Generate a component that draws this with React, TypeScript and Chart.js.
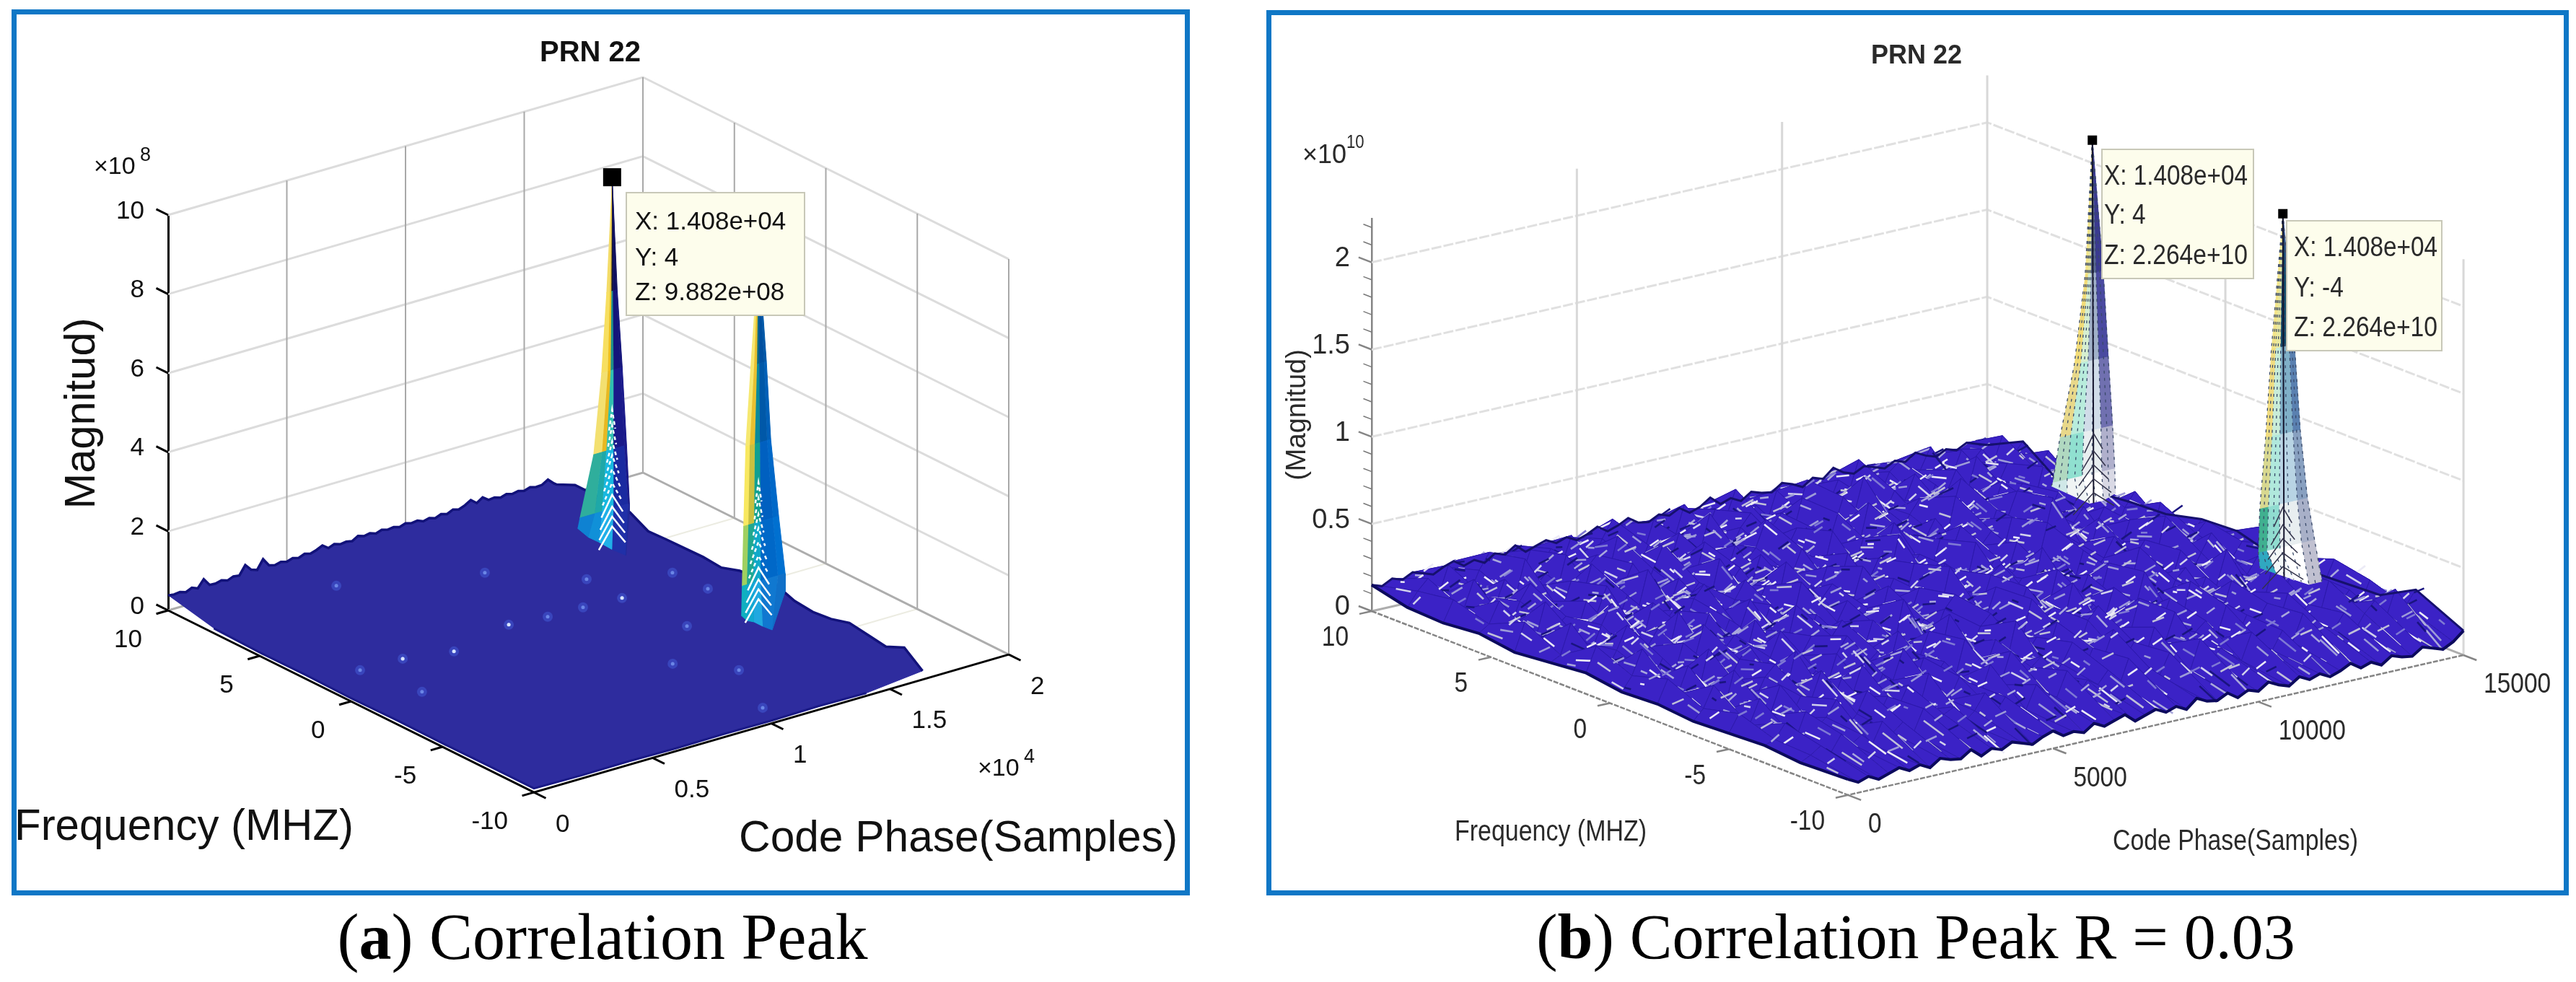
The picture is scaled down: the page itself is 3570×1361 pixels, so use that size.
import { useEffect, useRef } from "react";
import { Chart, registerables } from "chart.js";

Chart.register(...registerables);

const SANS = "'Liberation Sans', Arial, sans-serif";

// ---- panel (a) values: magnitude in 1e8, code phase in samples, frequency in MHz
const codeTicksA = [0, 5000, 10000, 15000, 20000];
const codeTickTextA = ["0", "0.5", "1", "1.5", "2"];
const freqTicks = [10, 5, 0, -5, -10];
const zTicksA = [2, 4, 6, 8, 10];
const wallFreqsA = [5, 0, -5, -10];
const floorFreqsA = [5, 0, -5];

const backCodesA = [
  0, 250, 500, 750, 1000, 1250, 1500, 1750, 2000, 2250, 2500, 2750, 3000, 3250, 3500, 3750, 4000, 4250, 4500, 4750, 5000, 5250,
  5500, 5750, 6000, 6250, 6500, 6750, 7000, 7250, 7500, 7750, 8000, 8250, 8500, 8750, 9000, 9250, 9500, 9750, 10000, 10250,
  10500, 10750, 11000, 11250, 11500, 11750, 12000, 12250, 12500, 12750, 13000, 13250, 13500, 13750, 14000, 14250, 14500, 14750,
  15000, 15250, 15500, 15750, 16000, 16250,
];
const backEdgeA = [
  0.38, 0.36, 0.38, 0.33, 0.4, 0.34, 0.53, 0.34, 0.33, 0.37, 0.32, 0.38, 0.36, 0.58, 0.42, 0.37, 0.6, 0.4, 0.36, 0.4, 0.36, 0.41,
  0.37, 0.43, 0.39, 0.44, 0.51, 0.4, 0.46, 0.41, 0.43, 0.4, 0.49, 0.44, 0.47, 0.42, 0.47, 0.43, 0.45, 0.41, 0.46, 0.42, 0.44,
  0.38, 0.42, 0.37, 0.43, 0.39, 0.46, 0.42, 0.48, 0.57, 0.45, 0.55, 0.44, 0.46, 0.41, 0.46, 0.42, 0.45, 0.41, 0.46, 0.42, 0.43,
  0.52, 0.38,
];
const lastCodeA = 16368;
const rightFreqsA = [10, 9, 8, 7, 6, 5, 4, 3, 2, 1, 0, -1, -2, -3, -4, -5, -6, -7, -8, -9, -10];
const rightEdgeA = [0.33, 0.55, 0.55, 0.55, 0.55, 0.3, 0.32, 0.33, 0.34, 0.3, 0.45, 0.5, 0.55, 0.38, 0.33, 0.38, 0.51, 0.44, 0.37, 0.58, 0.22];
const frontCodesA = [14000, 12000, 10000, 8000, 6000, 4000, 2000, 0];
const frontEdgeA = [0.07, 0.09, 0.07, 0.08, 0.07, 0.09, 0.08, 0.1];
const leftFreqsA = [-7.5, -5, -2.5, 0, 2.5, 5, 7.5];
const leftEdgeA = [0.1, 0.09, 0.1, 0.08, 0.1, 0.09, 0.12];
const speckCodesA = [7977, 12417, 5090, 3340, 1590, 2080, 5475, 10120, 12480, 15110, 15200, 12640, 10250, 11670, 10290, 10880, 9440];
const speckFreqsA = [1.73, 1.3, 0.98, 1.51, 1.57, -1.18, 7.91, 5.82, 3.32, 2.04, 0.22, -1.96, -4.28, -6.06, -9.15, 1.44, 1.5];
const brightCodesA = [12417, 7977, 5090, 3340];
const brightFreqsA = [1.3, 1.73, 0.98, 1.51];

const peakCodeX = 14080;
const peakLevelsA = [9.882, 7, 5, 3, 1.5, 0.3];
const peak1RibCodesA = [
  [0, -243, -456, -790, -1368, 570],
  [0, -91, -182, -426, -730, 378],
  [0, -30, -61, -243, -426, 396],
  [0, 30, 61, 61, 61, 355],
  [0, 182, 365, 517, 669, 410],
  [0, 213, 426, 608, 730, 2820],
];
const peak1RibFreqsA = [2.63, 1.79, 1.22, 0.46, -0.22, 2.72];
const peak2RibCodesA = [
  [0, -334, -547, -638, -699, 259],
  [0, -182, -365, -426, -486, 140],
  [0, -61, -152, -182, -213, 254],
  [0, 30, 61, 91, 91, 254],
  [0, 243, 365, 608, 821, 310],
  [0, 334, 517, 851, 1125, 2720],
];
const peak2RibFreqsA = [1.28, 0.81, 0.57, 0.09, -0.35, 2.07];
const rungLevelsA = [1.05, 1.3, 1.55, 1.85, 2.15, 2.5, 2.85, 3.2, 3.6, 4];
const rungSpansA = [560, 540, 500, 450, 400, 340, 280, 220, 170, 130];

// ---- panel (b) values: magnitude in 1e10
const codeTicksB = [0, 5000, 10000, 15000];
const codeTickTextB = ["0", "5000", "10000", "15000"];
const zTicksB = [0.5, 1, 1.5, 2];
const zMinorB = [0.1, 0.2, 0.3, 0.4, 0.6, 0.7, 0.8, 0.9, 1.1, 1.2, 1.3, 1.4, 1.6, 1.7, 1.8, 1.9, 2.1, 2.2];
const wallFreqsB = [0, -10];

const meshCodesB = [
  0, 250, 500, 750, 1000, 1250, 1500, 1750, 2000, 2250, 2500, 2750, 3000, 3250, 3500, 3750, 4000, 4250, 4500, 4750, 5000, 5250,
  5500, 5750, 6000, 6250, 6500, 6750, 7000, 7250, 7500, 7750, 8000, 8250, 8500, 8750, 9000, 9250, 9500, 9750, 10000, 10250,
  10500, 10750, 11000, 11250, 11500, 11750, 12000, 12250, 12500, 12750, 13000, 13250, 13500, 13750, 14000, 14250, 14500, 14750,
  15000,
];
const meshFreqsB = [10, 8.5, 7, 5.5, 4, 2.5, 1, -0.5, -2, -3.5, -5, -6.5, -8, -10];
// hundredths of 1e10, one row per frequency
const meshB = [
  [15,13,16,14,17,15,13,16,18,14,16,13,17,15,19,14,16,18,15,17,14,16,19,15,17,20,16,15,18,16,19,15,17,21,16,18,15,19,17,16,20,18,15,19,17,22,18,16,19,17,15,18,16,20,17,15,18,16,19,17,15],
  [10,18,24,12,29,16,9,22,31,14,20,11,27,17,25,13,30,19,12,24,34,15,21,10,28,18,14,33,22,12,26,19,35,16,23,11,29,20,14,31,24,13,27,18,36,21,12,25,30,15,22,34,17,13,28,20,26,14,31,18,25],
  [9,21,14,30,19,11,26,13,35,18,24,10,32,15,22,28,12,36,20,14,27,17,11,30,23,15,37,19,13,25,32,14,21,28,12,34,18,24,11,29,16,38,22,14,26,19,33,12,24,17,30,13,35,20,15,27,11,23,18,29,10],
  [11,15,27,10,24,33,14,20,12,29,16,36,13,23,18,31,11,25,38,16,21,13,34,20,10,28,17,24,39,14,19,30,12,26,15,33,21,10,35,18,27,13,23,31,11,28,17,37,14,22,12,30,19,26,10,33,16,21,28,13,12],
  [8,24,12,33,17,22,10,28,19,34,11,26,15,38,20,12,29,17,24,10,35,19,27,14,32,11,22,16,30,24,12,36,18,10,28,21,14,33,25,12,19,30,15,40,17,24,11,27,20,35,13,23,16,29,12,26,34,15,22,18,14],
  [10,13,30,18,11,25,36,14,21,10,31,17,24,13,28,35,16,11,22,32,14,26,10,37,18,23,13,29,11,34,20,15,27,12,38,16,24,10,30,19,35,13,21,28,11,33,18,25,14,39,12,22,30,16,27,10,24,32,13,20,15],
  [12,26,11,21,34,13,19,28,11,35,22,14,30,10,24,17,33,12,27,20,11,36,15,24,31,12,18,37,22,13,26,10,32,19,14,28,23,11,36,17,25,12,31,20,15,38,11,27,22,13,34,18,10,29,24,12,35,16,21,11,20],
  [9,17,31,13,23,10,29,16,37,12,20,27,11,33,18,24,12,36,15,28,10,21,32,14,25,11,35,19,13,30,24,12,38,16,21,10,28,33,14,22,12,37,19,26,11,30,16,23,34,12,20,28,14,39,17,10,25,31,13,22,21],
  [10,23,13,28,11,35,20,14,25,31,10,22,36,13,19,29,11,26,34,17,12,30,22,10,38,15,24,13,27,34,11,20,16,33,25,12,29,18,11,35,21,14,28,10,32,24,13,37,18,22,11,30,15,26,36,12,19,27,14,33,15],
  [8,14,26,10,32,17,12,24,30,11,35,16,21,10,28,37,13,19,24,11,33,20,14,29,10,36,18,12,25,31,14,22,10,34,17,27,12,38,15,23,11,30,19,13,35,21,12,26,32,10,24,17,37,13,20,29,11,33,16,23,14],
  [9,19,11,25,14,30,10,21,17,33,12,26,14,31,10,23,18,35,11,27,15,22,10,32,19,13,28,11,36,16,24,12,30,20,10,27,34,14,19,11,33,23,13,29,10,36,18,25,12,31,15,22,11,34,19,27,12,24,17,30,15],
  [10,12,20,9,24,13,18,27,10,16,28,11,22,14,26,10,30,16,12,24,19,10,27,14,32,11,20,25,13,18,29,10,23,15,31,12,21,9,27,16,33,11,19,24,12,30,10,22,17,26,11,29,14,20,10,31,16,23,12,26,16],
  [8,11,15,10,19,12,16,9,21,13,18,10,23,12,17,20,10,15,24,11,19,13,9,22,16,12,26,10,18,14,21,9,25,13,17,11,23,15,10,27,12,19,14,9,24,16,11,21,13,28,10,18,15,23,11,20,26,13,30,19,27],
  [9,6,8,5,7,9,6,8,5,9,7,6,10,5,8,6,9,7,5,8,10,6,7,5,9,6,8,10,5,7,9,6,8,5,10,7,6,9,5,8,6,10,7,5,9,6,8,5,7,10,6,8,5,9,7,6,10,8,6,9,14],
];
const peakLevelsB = [2.264, 1.5, 1, 0.6, 0.35, 0.18];
const peak1RibCodesB = [
  [0, -176, -440, -791, -967, 71],
  [0, -105, -281, -527, -615, 28],
  [0, -35, -105, -211, -246, -30],
  [0, 88, 158, 211, 229, 295],
  [0, 264, 387, 492, 545, 769],
];
const peak1RibFreqsB = [1.85, 1.11, 0.07, 0.05, 0.36];
const peak2RibCodesB = [
  [0, -281, -422, -563, -598, 18],
  [0, -176, -264, -352, -387, 43],
  [0, -53, -70, -88, -70, 80],
  [0, 158, 246, 352, 457, 112],
  [0, 281, 422, 598, 774, 427],
];
const peak2RibFreqsB = [1, 0.35, -0.32, -0.9, -0.9];
const rungLevelsB = [0.24, 0.32, 0.4, 0.48, 0.58];
const rungSpansB = [500, 430, 360, 290, 220];

interface Peak {
  freq: number;
  levels: number[];
  ribCodes: number[][];
  ribFreqs: number[];
  colors: string[][];
  rungs: number[];
  spans: number[];
  rungDrop: number;
  rungShift: number;
  rungColor: string;
  rungWidth: number;
  dashed: boolean;
  markerRadius: number;
}

const peak1ColorsA = [
  ["#f4dc68", "#e2c03a", "#15152f", "#10105e", "#10105e"],
  ["#f7df60", "#efc020", "#1d8f8a", "#14147a", "#14147a"],
  ["#f3e070", "#e8b820", "#30c0b0", "#1a1a8a", "#1a1a8a"],
  ["#2fae9c", "#1ea8a8", "#18b8e0", "#1a2aa0", "#1a1a8a"],
  ["#0f82d2", "#1090d8", "#20b0e8", "#2030a8", "#202a98"],
];
const peak2ColorsA = [
  ["#f6e870", "#e8c030", "#0a6a80", "#0050a0", "#0058a8"],
  ["#f6e870", "#e8c030", "#0a8a9a", "#0058a8", "#0060b8"],
  ["#f8e860", "#c8c040", "#10a090", "#0060c0", "#0068c8"],
  ["#a0d060", "#20a890", "#10a8c8", "#0068c8", "#0070d0"],
  ["#10b0c0", "#10a8d0", "#20a8e0", "#1078d0", "#1070c8"],
];
const peak1ColorsB = [
  ["#f3e58a", "#e8e8a0", "#5a6a90", "#3a3a90"],
  ["#f2dc78", "#d6efd0", "#a0b0c8", "#4a4aa0"],
  ["#e8d88a", "#b8ecdc", "#d0dce8", "#7070b0"],
  ["#b0d8c0", "#90e0d0", "#e8eef0", "#b0b0cc"],
  ["#d0e8e8", "#f0f4f4", "#ffffff", "#d8d8e4"],
];
const peak2ColorsB = [
  ["#f3e58a", "#e8e8a0", "#104a6a", "#30508a"],
  ["#f0dc80", "#c8ecd8", "#80b0c8", "#5a80b0"],
  ["#d8d890", "#b0e8dc", "#b8d4e4", "#88a0c0"],
  ["#40b090", "#90dcd0", "#e8eef0", "#a8b0c8"],
  ["#30a8c0", "#f4f8f8", "#ffffff", "#c0c0d0"],
];

const peaksA: Peak[] = [
  { freq: -4, levels: peakLevelsA, ribCodes: peak2RibCodesA, ribFreqs: peak2RibFreqsA, colors: peak2ColorsA, rungs: rungLevelsA, spans: rungSpansA, rungDrop: 0.5, rungShift: 0, rungColor: "#ffffff", rungWidth: 2.5, dashed: false, markerRadius: 0 },
  { freq: 4, levels: peakLevelsA, ribCodes: peak1RibCodesA, ribFreqs: peak1RibFreqsA, colors: peak1ColorsA, rungs: rungLevelsA, spans: rungSpansA, rungDrop: 0.5, rungShift: 0, rungColor: "#ffffff", rungWidth: 2.5, dashed: false, markerRadius: 12.5 },
];
const peaksB: Peak[] = [
  { freq: 4, levels: peakLevelsB, ribCodes: peak1RibCodesB, ribFreqs: peak1RibFreqsB, colors: peak1ColorsB, rungs: rungLevelsB, spans: rungSpansB, rungDrop: 0.1, rungShift: 30, rungColor: "#33334a", rungWidth: 1.5, dashed: true, markerRadius: 6.5 },
  { freq: -4, levels: peakLevelsB, ribCodes: peak2RibCodesB, ribFreqs: peak2RibFreqsB, colors: peak2ColorsB, rungs: rungLevelsB, spans: rungSpansB, rungDrop: 0.1, rungShift: 0, rungColor: "#33334a", rungWidth: 1.5, dashed: true, markerRadius: 6.5 },
];

interface Pt3 {
  code: number;
  freq: number;
  z: number;
}

interface TextItem {
  text: string;
  x: number;
  y: number;
  size: number;
  align?: CanvasTextAlign;
  squeeze?: number;
  rotate?: boolean;
  width?: number;
}

interface Tip {
  box: number[];
  textX: number;
  lineY: number[];
  lines: string[];
  width: number;
  size: number;
}

interface Panel {
  left: number;
  width: number;
  areaLeft: number;
  areaBottom: number;
  codeMax: number;
  xMax: number;
  zMax: number;
  zTop: number;
  stepZ: number;
  shiftX: number; // code units per MHz on screen
  riseZ: number; // magnitude units per sample on screen
  dropZ: number; // magnitude units per MHz on screen
  titleSize: number;
  titleTop: number;
  titlePad: number;
  labelPad: number;
  labelOffset: number;
  tickSize: number;
  textColor: string;
  axisColor: string;
  axisWidth: number;
  axisDash: number[];
  squeeze: number;
  codeTicks: number[];
  codeText: string[];
  codeLabelDx: number;
  codeLabelDy: number;
  freqLabelDx: number;
  freqLabelDy: number;
  texts: TextItem[];
  tips: Tip[];
  build: (p: Panel) => any[];
}

function project(p: Panel, code: number, freq: number, z: number) {
  return {
    x: code + (10 - freq) * p.shiftX,
    y: z + code * p.riseZ - (10 - freq) * p.dropZ,
  };
}

function lineSet(p: Panel, pts: Pt3[], color: string, width: number, dash: number[] = []) {
  return {
    type: "scatter",
    data: pts.map((q) => project(p, q.code, q.freq, q.z)),
    showLine: true,
    borderColor: color,
    borderWidth: width,
    borderDash: dash,
    pointRadius: 0,
    tension: 0,
    clip: false,
  };
}

function polySet(p: Panel, pts: Pt3[], color: string) {
  return { ...lineSet(p, pts, color, 1), polygonFill: color };
}

// chart.js skips points outside the chart area, so dots are painted from the placed elements
function dotSet(data: { x: number; y: number }[], color: string, radius: number, square = false) {
  return { type: "scatter", data, pointRadius: 0, dotColor: color, dotRadius: radius, dotSquare: square, clip: false };
}

// walls, floor lines and the three axes with their slanted tick marks
function boxSets(p: Panel, zTicks: number[], wallFreqs: number[], floorFreqs: number[], wallColor: string, gridColor: string, wallWidth: number) {
  const max = p.codeMax;
  const sets: any[] = [];
  zTicks.forEach((z) => {
    sets.push(lineSet(p, [{ code: 0, freq: 10, z }, { code: max, freq: 10, z }, { code: max, freq: -10, z }], gridColor, 3, p.axisDash.length ? [14, 3] : []));
  });
  p.codeTicks.slice(1).forEach((code) => {
    sets.push(lineSet(p, [{ code, freq: 10, z: 0 }, { code, freq: 10, z: p.zTop }], wallColor, wallWidth));
  });
  wallFreqs.forEach((freq) => {
    sets.push(lineSet(p, [{ code: max, freq, z: 0 }, { code: max, freq, z: p.zTop }], wallColor, wallWidth));
  });
  floorFreqs.forEach((freq) => {
    sets.push(lineSet(p, [{ code: 0, freq, z: 0 }, { code: max, freq, z: 0 }], "#ecece2", 2));
  });
  sets.push(lineSet(p, [{ code: 0, freq: 10, z: 0 }, { code: max, freq: 10, z: 0 }, { code: max, freq: -10, z: 0 }], "#adadad", 3));
  return sets;
}

function axisSets(p: Panel, zTicks: number[], tickFreq: number, tickCode: number) {
  const c = p.axisColor;
  const w = p.axisWidth;
  const d = p.axisDash;
  const sets: any[] = [lineSet(p, [{ code: 0, freq: 10, z: 0 }, { code: 0, freq: -10, z: 0 }, { code: p.codeMax, freq: -10, z: 0 }], c, w, d)];
  [0, ...zTicks].forEach((z) => sets.push(lineSet(p, [{ code: 0, freq: 10, z }, { code: 0, freq: 10 + tickFreq, z }], c, w)));
  freqTicks.forEach((freq) => sets.push(lineSet(p, [{ code: 0, freq, z: 0 }, { code: -tickCode, freq, z: 0 }], c, w)));
  p.codeTicks.forEach((code) => sets.push(lineSet(p, [{ code, freq: -10, z: 0 }, { code, freq: -10 - tickFreq, z: 0 }], c, w)));
  return sets;
}

function peakSets(p: Panel, pk: Peak) {
  const sets: any[] = [];
  const at = (rib: number, level: number): Pt3 => ({
    code: peakCodeX + pk.ribCodes[rib][level],
    freq: pk.freq + (level === pk.levels.length - 1 ? pk.ribFreqs[rib] : 0),
    z: pk.levels[level],
  });
  for (let l = 0; l < pk.levels.length - 1; l++) {
    for (let r = 0; r < pk.ribCodes.length - 1; r++) {
      sets.push(polySet(p, [at(r, l), at(r + 1, l), at(r + 1, l + 1), at(r, l + 1)], pk.colors[l][r]));
    }
  }
  if (pk.dashed) {
    // mesh lines running down from the tip
    pk.ribCodes.forEach((_, r) => {
      const pts = pk.levels.map((__, l) => at(r, l));
      sets.push(lineSet(p, pts, "#3a4a6a", 1.3, [4, 6]));
      if (r < pk.ribCodes.length - 1) {
        const mid = pts.map((q, l) => ({ code: (q.code + at(r + 1, l).code) / 2, freq: (q.freq + at(r + 1, l).freq) / 2, z: q.z }));
        sets.push(lineSet(p, mid, "#3a4a6a", 1.3, [4, 6]));
      }
    });
    sets.push(lineSet(p, [{ code: peakCodeX, freq: pk.freq, z: pk.levels[0] }, { code: peakCodeX + 30, freq: pk.freq, z: pk.levels[pk.levels.length - 1] }], "#14142c", 2));
  }
  pk.rungs.forEach((z, i) => {
    const c = peakCodeX + pk.rungShift;
    sets.push(
      lineSet(
        p,
        [
          { code: c - pk.spans[i], freq: pk.freq, z: z - pk.rungDrop },
          { code: c, freq: pk.freq, z },
          { code: c + pk.spans[i], freq: pk.freq, z: z - pk.rungDrop },
        ],
        pk.rungColor,
        pk.rungWidth,
        !pk.dashed && i > 3 ? [5, 4] : [],
      ),
    );
  });
  if (pk.markerRadius > 0) {
    sets.push(dotSet([project(p, peakCodeX, pk.freq, pk.levels[0])], "#000000", pk.markerRadius, true));
  }
  return sets;
}

function buildA(p: Panel) {
  const outlineBack: Pt3[] = backCodesA.map((code, i) => ({ code, freq: 10, z: backEdgeA[i] }));
  const outlineRight: Pt3[] = rightFreqsA.map((freq, i) => ({ code: lastCodeA, freq, z: rightEdgeA[i] }));
  const outlineFront: Pt3[] = frontCodesA.map((code, i) => ({ code, freq: -10, z: frontEdgeA[i] }));
  const outlineLeft: Pt3[] = leftFreqsA.map((freq, i) => ({ code: 0, freq, z: leftEdgeA[i] }));
  const specks = speckCodesA.map((code, i) => project(p, code, speckFreqsA[i], 0.15));
  const bright = brightCodesA.map((code, i) => project(p, code, brightFreqsA[i], 0.15));
  return [
    ...boxSets(p, zTicksA, wallFreqsA, floorFreqsA, "#a8a8a8", "#dcdcdc", 2),
    ...axisSets(p, zTicksA, 0.65, 500),
    polySet(p, [...outlineBack, ...outlineRight, ...outlineFront, ...outlineLeft], "#2e2c9e"),
    lineSet(p, [...outlineBack, ...outlineRight], "#12127a", 3.5),
    lineSet(p, [...outlineFront, ...outlineLeft], "#1a1a86", 3),
    dotSet(specks, "rgba(70,100,225,0.45)", 7),
    dotSet(specks, "rgba(120,150,240,0.8)", 2.5),
    dotSet(bright, "#d8e4ff", 2.5),
    ...peakSets(p, peaksA[0]),
    ...peakSets(p, peaksA[1]),
  ];
}

function buildB(p: Panel) {
  const cols = meshCodesB.length;
  const meshPts = meshB.flatMap((row, r) => row.map((v, c) => project(p, meshCodesB[c], meshFreqsB[r], v / 100)));
  const back: Pt3[] = meshB[0].map((v, c) => ({ code: meshCodesB[c], freq: 10, z: v / 100 }));
  const right: Pt3[] = meshB.map((row, r) => ({ code: 15000, freq: meshFreqsB[r], z: row[cols - 1] / 100 }));
  const front: Pt3[] = meshB[meshB.length - 1].map((v, c) => ({ code: meshCodesB[c], freq: -10, z: v / 100 }));
  const left: Pt3[] = meshB.map((row, r) => ({ code: 0, freq: meshFreqsB[r], z: row[0] / 100 }));
  const minor = zMinorB.map((z) => lineSet(p, [{ code: 0, freq: 10, z }, { code: 0, freq: 10.35, z }], "#777777", 1.5));
  return [
    ...boxSets(p, zTicksB, wallFreqsB, [], "#d8d8d8", "#e0e0e0", 3),
    ...axisSets(p, zTicksB, 0.55, 300),
    ...minor,
    {
      type: "scatter",
      data: meshPts,
      meshRows: meshB.length,
      meshCols: cols,
      meshHeights: meshB.flat(),
      pointRadius: 0,
      showLine: false,
      clip: false,
    },
    lineSet(p, back, "#16106e", 3),
    lineSet(p, right, "#16106e", 3),
    lineSet(p, front, "#0c0a5c", 4),
    lineSet(p, left, "#0c0a5c", 4),
    ...peakSets(p, peaksB[1]),
    ...peakSets(p, peaksB[0]),
  ];
}

const panelA: Panel = {
  left: 0,
  width: 1636,
  areaLeft: 233,
  areaBottom: 846,
  codeMax: 20000,
  xMax: 42644,
  zMax: 10,
  zTop: 10,
  stepZ: 2,
  shiftX: 770.5,
  riseZ: 1.7427e-4,
  dropZ: 0.23,
  titleSize: 40,
  titleTop: 50,
  titlePad: 200,
  labelPad: 33,
  labelOffset: -5,
  tickSize: 35,
  textColor: "#111111",
  axisColor: "#000000",
  axisWidth: 3,
  axisDash: [],
  squeeze: 1,
  codeTicks: codeTicksA,
  codeText: codeTickTextA,
  codeLabelDx: 30,
  codeLabelDy: 45,
  freqLabelDx: -36,
  freqLabelDy: 41,
  texts: [
    { text: "×10", x: 130, y: 232, size: 34 },
    { text: "8", x: 194, y: 216, size: 27 },
    { text: "Magnitud)", x: 114, y: 573, size: 60, rotate: true, width: 265, align: "center" },
    { text: "Frequency (MHZ)", x: 20, y: 1147, size: 61, width: 470 },
    { text: "Code Phase(Samples)", x: 1024, y: 1163, size: 61, width: 608 },
    { text: "×10", x: 1355, y: 1066, size: 34 },
    { text: "4", x: 1419, y: 1050, size: 27 },
  ],
  tips: [
    {
      box: [868, 267, 247, 170],
      textX: 880,
      lineY: [308, 358, 406],
      lines: ["X: 1.408e+04", "Y: 4", "Z: 9.882e+08"],
      width: 223,
      size: 35,
    },
  ],
  build: buildA,
};

const panelB: Panel = {
  left: 1760,
  width: 1792,
  areaLeft: 141,
  areaBottom: 847,
  codeMax: 15000,
  xMax: 29031,
  zMax: 2.25,
  zTop: 2.27,
  stepZ: 0.5,
  shiftX: 580.3,
  riseZ: 5.349e-5,
  dropZ: 0.05273,
  titleSize: 36,
  titleTop: 56,
  titlePad: 204,
  labelPad: 30,
  labelOffset: -5,
  tickSize: 38,
  textColor: "#2a2a2a",
  axisColor: "#858585",
  axisWidth: 2.5,
  axisDash: [7, 2],
  squeeze: 0.88,
  codeTicks: codeTicksB,
  codeText: codeTickTextB,
  codeLabelDx: 28,
  codeLabelDy: 42,
  freqLabelDx: -32,
  freqLabelDy: 38,
  texts: [
    { text: "×10", x: 1805, y: 216, size: 36 },
    { text: "10", x: 1866, y: 198, size: 26, squeeze: 0.85 },
    { text: "(Magnitud)", x: 1799, y: 575, size: 38, rotate: true, width: 206, align: "center" },
    { text: "Frequency (MHZ)", x: 2016, y: 1154, size: 41, width: 266 },
    { text: "Code Phase(Samples)", x: 2928, y: 1167, size: 41, width: 340 },
  ],
  tips: [
    {
      box: [2913, 207, 210, 179],
      textX: 2916,
      lineY: [246, 300, 356],
      lines: ["X: 1.408e+04", "Y: 4", "Z: 2.264e+10"],
      width: 199,
      size: 38,
    },
    {
      box: [3169, 306, 215, 180],
      textX: 3179,
      lineY: [345, 401, 456],
      lines: ["X: 1.408e+04", "Y: -4", "Z: 2.264e+10"],
      width: 199,
      size: 38,
    },
  ],
  build: buildB,
};

const FLECKS = ["#d2d1ec", "#aaa8dc", "#7f79d4", "#ecebf6", "#1a1480", "#9d9bd8", "#c0c0d8"];

const mix = (a: any, b: any, t: number) => ({ x: a.x + (b.x - a.x) * t, y: a.y + (b.y - a.y) * t });

// polygons, dots and the mesh are painted from the points the scales placed
const surfacePlugin = {
  id: "surfaceFill",
  beforeDatasetDraw(chart: any, args: any) {
    const ds = chart.data.datasets[args.index];
    const pts = args.meta.data;
    const ctx = chart.ctx;
    if (ds.polygonFill) {
      ctx.save();
      ctx.beginPath();
      pts.forEach((q: any, i: number) => (i ? ctx.lineTo(q.x, q.y) : ctx.moveTo(q.x, q.y)));
      ctx.closePath();
      ctx.fillStyle = ds.polygonFill;
      ctx.fill();
      ctx.restore();
    }
    if (ds.dotRadius) {
      ctx.save();
      ctx.fillStyle = ds.dotColor;
      pts.forEach((q: any) => {
        ctx.beginPath();
        if (ds.dotSquare) ctx.rect(q.x - ds.dotRadius, q.y - ds.dotRadius, ds.dotRadius * 2, ds.dotRadius * 2);
        else ctx.arc(q.x, q.y, ds.dotRadius, 0, Math.PI * 2);
        ctx.fill();
      });
      ctx.restore();
    }
    if (ds.meshRows) {
      const n = ds.meshCols;
      ctx.save();
      for (let r = 0; r < ds.meshRows - 1; r++) {
        for (let c = n - 2; c >= 0; c--) {
          const ids = [r * n + c, r * n + c + 1, (r + 1) * n + c + 1, (r + 1) * n + c];
          const hs = ids.map((i) => ds.meshHeights[i]);
          const spread = Math.max(...hs) - Math.min(...hs);
          ctx.beginPath();
          ids.forEach((id, i) => (i ? ctx.lineTo(pts[id].x, pts[id].y) : ctx.moveTo(pts[id].x, pts[id].y)));
          ctx.closePath();
          ctx.fillStyle = "#3b22c6";
          ctx.strokeStyle = "#2c18ac";
          ctx.lineWidth = 1;
          ctx.fill();
          ctx.stroke();
          // steep cells show short pale strokes where the mesh opens up
          const count = spread > 26 ? 10 : spread > 20 ? 6 : spread > 12 ? 3 : 1;
          ctx.lineWidth = 2.6;
          for (let k = 0; k < count; k++) {
            const s = hs[0] * 13 + hs[1] * 7 + hs[2] * 5 + hs[3] * 3 + k * 29 + c * 3 + r * 11;
            const u = (s % 11) / 11;
            const t = ((s >> 1) % 9) / 12;
            const len = 0.12 + ((s >> 2) % 6) * 0.06;
            const top = mix(pts[ids[0]], pts[ids[1]], u);
            const bot = mix(pts[ids[3]], pts[ids[2]], u);
            const a = mix(top, bot, t);
            const b = s % 3 === 0 ? { x: a.x + 10 + (s % 7), y: a.y - 6 - (s % 5) } : mix(top, bot, t + len);
            ctx.beginPath();
            ctx.moveTo(a.x, a.y);
            ctx.lineTo(b.x, b.y);
            ctx.strokeStyle = FLECKS[s % FLECKS.length];
            ctx.stroke();
          }
        }
      }
      ctx.restore();
    }
  },
};

function panelText(panel: Panel) {
  const put = (ctx: CanvasRenderingContext2D, t: TextItem) => {
    ctx.save();
    ctx.font = `${t.size}px ${SANS}`;
    ctx.fillStyle = panel.textColor;
    ctx.textBaseline = "middle";
    ctx.textAlign = t.align ?? "left";
    const natural = ctx.measureText(t.text).width;
    const maxW = t.width ?? natural * (t.squeeze ?? 1);
    if (t.rotate) {
      ctx.translate(t.x, t.y);
      ctx.rotate(-Math.PI / 2);
      ctx.fillText(t.text, 0, 0, maxW);
    } else {
      ctx.fillText(t.text, t.x, t.y, maxW);
    }
    ctx.restore();
  };
  return {
    id: "panelText",
    afterDraw(chart: any) {
      const ctx = chart.ctx;
      const sx = chart.scales.x;
      const sy = chart.scales.y;
      const px = (code: number, freq: number, z: number) => {
        const q = project(panel, code, freq, z);
        return { x: sx.getPixelForValue(q.x), y: sy.getPixelForValue(q.y) };
      };
      panel.codeTicks.forEach((code, i) => {
        const q = px(code, -10, 0);
        put(ctx, { text: panel.codeText[i], x: q.x + panel.codeLabelDx, y: q.y + panel.codeLabelDy, size: panel.tickSize, squeeze: panel.squeeze });
      });
      freqTicks.forEach((freq) => {
        const q = px(0, freq, 0);
        put(ctx, { text: String(freq), x: q.x + panel.freqLabelDx, y: q.y + panel.freqLabelDy, size: panel.tickSize, align: "right", squeeze: panel.squeeze });
      });
      panel.tips.forEach((tip) => {
        ctx.save();
        ctx.fillStyle = "#fdfdec";
        ctx.strokeStyle = "#c8c8b8";
        ctx.lineWidth = 2;
        ctx.fillRect(tip.box[0] - panel.left, tip.box[1], tip.box[2], tip.box[3]);
        ctx.strokeRect(tip.box[0] - panel.left, tip.box[1], tip.box[2], tip.box[3]);
        ctx.restore();
        tip.lines.forEach((text, i) => {
          put(ctx, {
            text,
            x: tip.textX - panel.left,
            y: tip.lineY[i],
            size: tip.size,
            width: text.length > 6 ? tip.width : undefined,
            squeeze: panel.squeeze,
          });
        });
      });
      panel.texts.forEach((t) => put(ctx, { ...t, x: t.x - panel.left }));
    },
  };
}

function PeakPanel({ panel }: { panel: Panel }) {
  const chartRef = useRef<HTMLCanvasElement>(null);

  useEffect(() => {
    if (!chartRef.current) return;
    const sets = panel.build(panel);
    sets.forEach((d, i) => {
      d.order = sets.length - i;
    });
    const chart = new Chart(chartRef.current, {
      type: "scatter",
      data: { datasets: sets },
      plugins: [surfacePlugin, panelText(panel)],
      options: {
        animation: false,
        responsive: false,
        devicePixelRatio: 1,
        events: [],
        layout: {
          autoPadding: false,
          padding: { top: 0, left: 0, right: 0, bottom: 1361 - panel.areaBottom },
        },
        plugins: {
          legend: { display: false },
          tooltip: { enabled: false },
          title: {
            display: true,
            text: "PRN 22",
            color: panel.textColor,
            font: { family: SANS, size: panel.titleSize, weight: "bold" },
            padding: { top: panel.titleTop, bottom: panel.titlePad },
          },
        },
        scales: {
          x: { type: "linear", display: false, min: 0, max: panel.xMax },
          y: {
            type: "linear",
            min: 0,
            max: panel.zMax,
            afterFit: (s: any) => {
              s.width = panel.areaLeft;
            },
            grid: { display: false, drawTicks: false },
            border: { display: true, color: panel.axisColor, width: panel.axisWidth },
            ticks: {
              stepSize: panel.stepZ,
              includeBounds: false,
              autoSkip: false,
              maxRotation: 0,
              padding: panel.labelPad,
              labelOffset: panel.labelOffset,
              color: panel.textColor,
              font: { family: SANS, size: panel.tickSize },
              callback: (v: any) => String(v),
            },
          },
        },
      } as any,
    } as any);
    return () => chart.destroy();
  }, [panel]);

  return (
    <canvas
      ref={chartRef}
      width={panel.width}
      height={1361}
      style={{ position: "absolute", left: panel.left, top: 0, width: panel.width, height: 1361 }}
    />
  );
}

const frameStyle = {
  position: "absolute",
  boxSizing: "border-box",
  border: "7px solid #0f77c6",
  background: "#ffffff",
} as const;

const captionStyle = {
  position: "absolute",
  top: 1256,
  height: 86,
  lineHeight: "86px",
  fontFamily: "'Liberation Serif', serif",
  color: "#000000",
  textAlign: "center",
  whiteSpace: "nowrap",
} as const;

export default function App() {
  return (
    <div style={{ position: "absolute", left: 0, top: 0, width: 3570, height: 1361, background: "#ffffff", overflow: "hidden" }}>
      <div style={{ ...frameStyle, left: 16, top: 13, width: 1633, height: 1228 }} />
      <div style={{ ...frameStyle, left: 1755, top: 14, width: 1805, height: 1227 }} />
      <PeakPanel panel={panelA} />
      <PeakPanel panel={panelB} />
      <div style={{ ...captionStyle, fontSize: 90, left: 35, width: 1600 }}>
        (<b>a</b>) Correlation Peak
      </div>
      <div style={{ ...captionStyle, fontSize: 88, left: 1755, width: 1800 }}>
        (<b>b</b>) Correlation Peak R = 0.03
      </div>
    </div>
  );
}
